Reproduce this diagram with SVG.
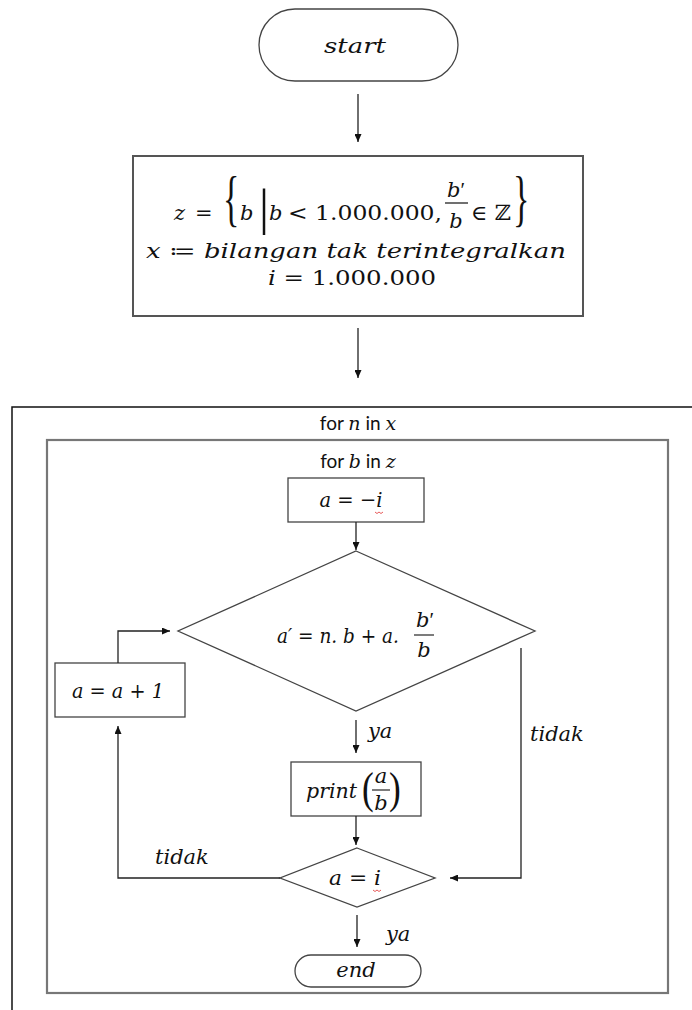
<svg xmlns="http://www.w3.org/2000/svg" width="692" height="1010" viewBox="0 0 692 1010">
<defs>
<marker id="ah" viewBox="0 0 8 7" refX="8" refY="3.5" markerWidth="8" markerHeight="7" markerUnits="userSpaceOnUse" orient="auto">
<path d="M0,0 L8,3.5 L0,7 z" fill="#111"/>
</marker>
</defs>
<style>
.m{font-family:"DejaVu Serif","Liberation Serif",serif;font-style:italic;font-size:21px;fill:#111}
.u{font-family:"DejaVu Serif","Liberation Serif",serif;font-style:normal;font-size:21px;fill:#111}
.d{font-family:"Liberation Serif",serif;font-style:normal;fill:#111}
.s{font-family:Lato,"Liberation Sans",sans-serif;font-size:19px;fill:#111}
.i{font-family:"DejaVu Serif","Liberation Serif",serif;font-style:italic}
.shape{fill:#fff;stroke:#444;stroke-width:1.3}
.con{fill:none;stroke:#222;stroke-width:1.3}
.arr{marker-end:url(#ah)}
.sq{fill:none;stroke:#e03030;stroke-width:0.8}
</style>
<rect width="692" height="1010" fill="#fff"/>

<g id="outer-loop">
<path d="M692,407 H12 V1010" fill="none" stroke="#111" stroke-width="1.5"/>
<text class="s" x="358" y="430" text-anchor="middle">for <tspan class="i">n</tspan> in <tspan class="i">x</tspan></text>
</g>

<g id="inner-loop">
<rect x="47" y="440" width="621" height="553" fill="none" stroke="#777" stroke-width="2.2"/>
<text class="s" x="358" y="468" text-anchor="middle">for <tspan class="i">b</tspan> in <tspan class="i">z</tspan></text>
</g>

<g id="start">
<rect class="shape" x="259" y="9" width="199" height="72" rx="36" ry="36"/>
<text class="m" x="355" y="53" font-size="23" text-anchor="middle" textLength="62" lengthAdjust="spacingAndGlyphs">start</text>
</g>

<g id="init">
<rect x="133" y="156" width="450" height="160" fill="#fff" stroke="#555" stroke-width="2"/>
<text class="m" x="174" y="220" font-size="25">z</text>
<text class="u" x="195" y="220" font-size="25">=</text>
<text class="d" transform="translate(223,219) scale(0.55,1)" font-size="62">{</text>
<text class="m" x="240" y="220" font-size="25">b</text>
<text class="d" x="259" y="224" font-size="50">|</text>
<text class="m" x="269" y="220" font-size="25">b</text>
<text class="u" x="288" y="220" font-size="25" textLength="154" lengthAdjust="spacingAndGlyphs">&lt; 1.000.000,</text>
<text class="m" x="456" y="197" font-size="21" text-anchor="middle">b<tspan font-family="Liberation Serif" font-style="normal">′</tspan></text>
<line x1="445" y1="203" x2="468" y2="203" stroke="#111" stroke-width="1.2"/>
<text class="m" x="456" y="228" font-size="21" text-anchor="middle">b</text>
<text class="u" x="471" y="220" font-size="25" textLength="40" lengthAdjust="spacingAndGlyphs">∈ ℤ</text>
<text class="d" transform="translate(513,219) scale(0.55,1)" font-size="62">}</text>
<text class="m" x="356" y="258" font-size="24" text-anchor="middle" textLength="420" lengthAdjust="spacingAndGlyphs">x ≔ bilangan tak terintegralkan</text>
<text class="u" x="352" y="285" font-size="24" text-anchor="middle" textLength="168" lengthAdjust="spacingAndGlyphs"><tspan font-style="italic">i</tspan> = 1.000.000</text>
</g>

<g id="assign-a">
<rect class="shape" x="288" y="478" width="136" height="44"/>
<text class="m" x="351" y="507" font-size="21" text-anchor="middle" textLength="63" lengthAdjust="spacingAndGlyphs">a = −i</text>
<path class="sq" d="M375,512 l2,1.5 l2,-1.5 l2,1.5 l2,-1.5"/>
</g>

<g id="decision1">
<polygon class="shape" points="356,551 535,631 356,711 178,631"/>
<text class="m" x="277" y="643" font-size="21" textLength="122" lengthAdjust="spacingAndGlyphs">a′ = n. b + a.</text>
<text class="m" x="425" y="627" font-size="20" text-anchor="middle">b<tspan font-family="Liberation Serif" font-style="normal">′</tspan></text>
<line x1="414" y1="635" x2="434" y2="635" stroke="#111" stroke-width="1.1"/>
<text class="m" x="424" y="657" font-size="20" text-anchor="middle">b</text>
</g>

<g id="increment">
<rect class="shape" x="55" y="663" width="130" height="54"/>
<text class="m" x="118" y="698" font-size="21" text-anchor="middle" textLength="92" lengthAdjust="spacingAndGlyphs">a = a + 1</text>
</g>

<g id="print">
<rect class="shape" x="291" y="762" width="130" height="54"/>
<text class="m" x="306" y="798" font-size="21" textLength="51" lengthAdjust="spacingAndGlyphs">print</text>
<text class="d" transform="translate(362,803) scale(0.8,1)" font-size="44">(</text>
<text class="m" x="381" y="783" font-size="18" text-anchor="middle">a</text>
<line x1="372" y1="790" x2="390" y2="790" stroke="#111" stroke-width="1.1"/>
<text class="m" x="381" y="810" font-size="18" text-anchor="middle">b</text>
<text class="d" transform="translate(389,803) scale(0.8,1)" font-size="44">)</text>
</g>

<g id="decision2">
<polygon class="shape" points="357,848 435,878 357,907 280,878"/>
<text class="m" x="355" y="885" font-size="21" text-anchor="middle" textLength="52" lengthAdjust="spacingAndGlyphs">a = i</text>
<path class="sq" d="M373,890 l2,1.5 l2,-1.5 l2,1.5 l2,-1.5"/>
</g>

<g id="end">
<rect class="shape" x="295" y="955" width="126" height="32" rx="16" ry="16"/>
<text class="m" x="356" y="977" font-size="20" text-anchor="middle">end</text>
</g>

<g id="connectors">
<path class="con arr" d="M358,94 V142"/>
<path class="con arr" d="M358,328 V378"/>
<path class="con arr" d="M356,522 V550"/>
<path class="con arr" d="M356,720 V753"/>
<path class="con arr" d="M356,816 V845"/>
<path class="con arr" d="M521,648 V878 H450" stroke="#555"/>
<path class="con arr" d="M280,878 H118 V726"/>
<path class="con arr" d="M118,663 V631 H170"/>
<path class="con arr" d="M357,915 V947"/>
<text class="m" x="368" y="738" font-size="20">ya</text>
<text class="m" x="530" y="741" font-size="20">tidak</text>
<text class="m" x="155" y="864" font-size="20">tidak</text>
<text class="m" x="386" y="941" font-size="20">ya</text>
</g>
</svg>
